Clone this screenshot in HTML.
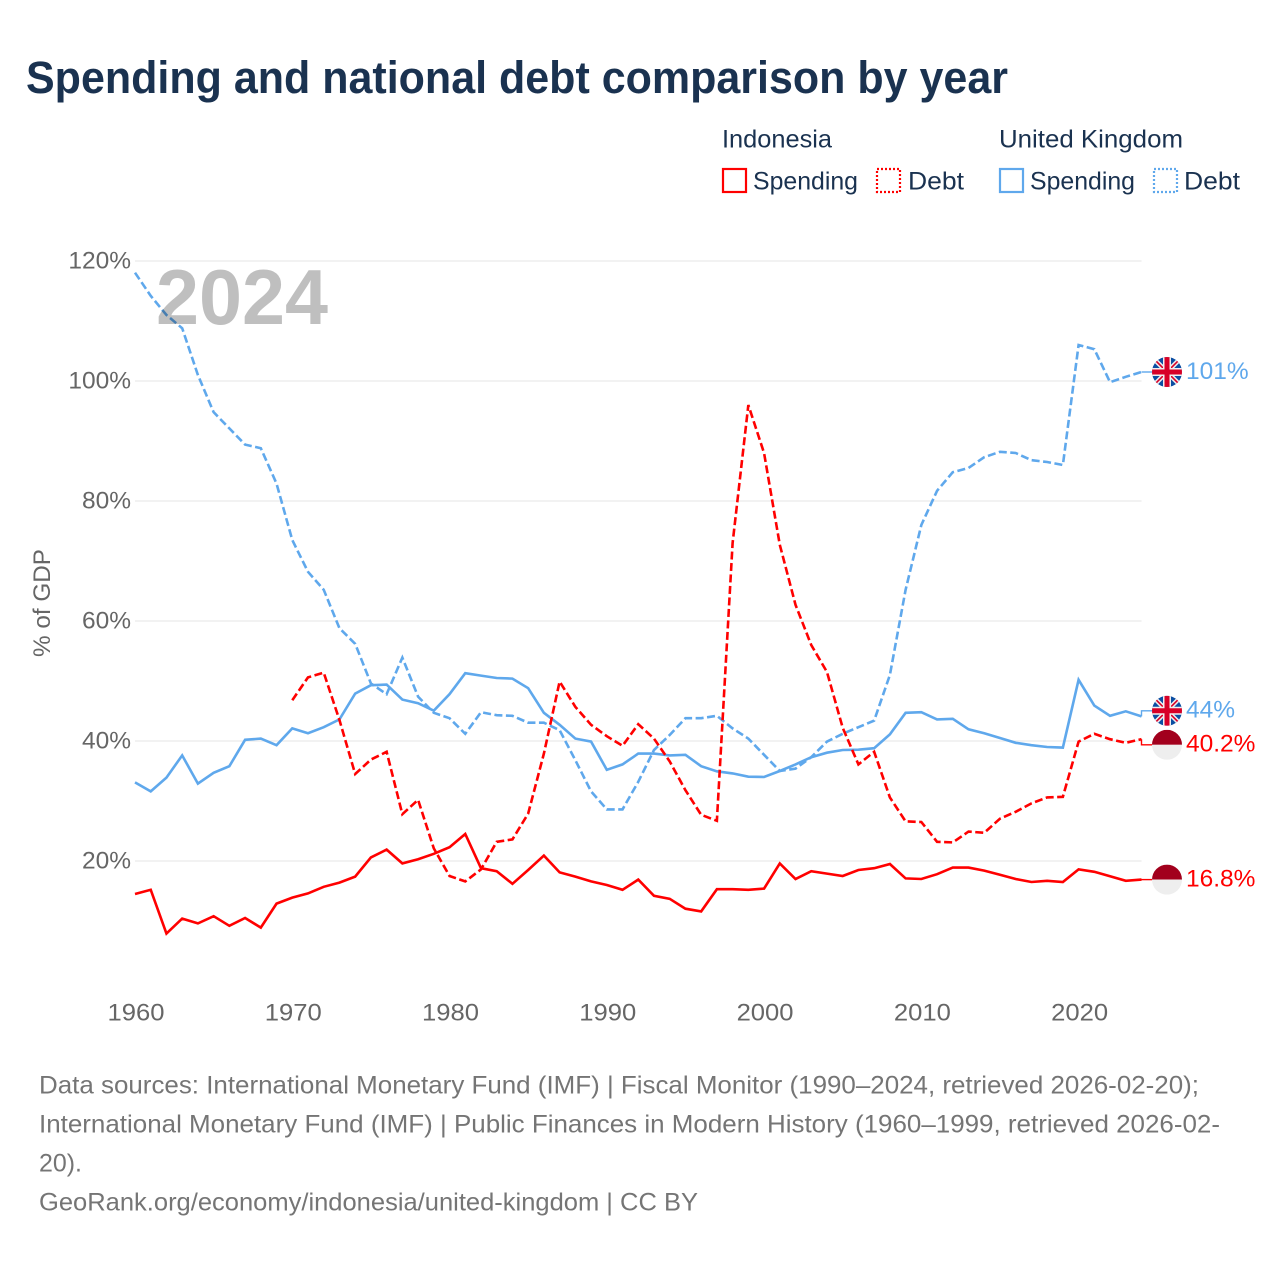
<!DOCTYPE html>
<html lang="en">
<head>
<meta charset="utf-8">
<title>Spending and national debt comparison by year</title>
<style>
html,body{margin:0;padding:0;background:#fff;}
svg{display:block;font-family:"Liberation Sans",sans-serif;}
.navy{fill:#1a3250;}
.tick{fill:#666;font-size:24.5px;}
.foot{fill:#757575;font-size:25px;}
.leg{font-size:25px;}
</style>
</head>
<body>
<svg id="chart" xmlns="http://www.w3.org/2000/svg" width="1280" height="1280" viewBox="0 0 1280 1280">
<defs>
<clipPath id="flag-clip"><circle cx="0" cy="0" r="15"></circle></clipPath>
<g id="uk-flag" clip-path="url(#flag-clip)">
<rect x="-15" y="-15" width="30" height="30" fill="#0b4ea2"></rect>
<path d="M-15-15L15 15M15-15L-15 15" stroke="#f0f0f0" stroke-width="4.6"></path>
<path d="M-15-15L15 15M15-15L-15 15" stroke="#d80027" stroke-width="1.6"></path>
<path d="M0-15V15M-15 0H15" stroke="#f0f0f0" stroke-width="8"></path>
<path d="M0-15V15M-15 0H15" stroke="#d80027" stroke-width="5"></path>
</g>
<g id="id-flag" clip-path="url(#flag-clip)">
<rect x="-15" y="-15" width="30" height="15" fill="#a2001d"></rect>
<rect x="-15" y="0" width="30" height="15" fill="#eeeeee"></rect>
</g>
</defs>
<rect x="0" y="0" width="1280" height="1280" fill="#fff"></rect>
<text class="navy" x="26" y="93" font-size="45.5" font-weight="700" textLength="982" lengthAdjust="spacingAndGlyphs">Spending and national debt comparison by year</text>

<g>
<text class="navy leg" x="722" y="147.5" textLength="110" lengthAdjust="spacingAndGlyphs">Indonesia</text>
<text class="navy leg" x="999" y="147.5" textLength="184" lengthAdjust="spacingAndGlyphs">United Kingdom</text>
<rect x="723" y="169" width="23" height="23" fill="none" stroke="#ff0000" stroke-width="2.2"></rect>
<text class="navy leg" x="753" y="189.5" textLength="105" lengthAdjust="spacingAndGlyphs">Spending</text>
<rect x="877" y="169" width="23" height="23" fill="none" stroke="#ff0000" stroke-width="2.2" stroke-dasharray="2 2"></rect>
<text class="navy leg" x="908" y="189.5" textLength="56" lengthAdjust="spacingAndGlyphs">Debt</text>
<rect x="1000" y="169" width="23" height="23" fill="none" stroke="#5fa8ec" stroke-width="2.2"></rect>
<text class="navy leg" x="1030" y="189.5" textLength="105" lengthAdjust="spacingAndGlyphs">Spending</text>
<rect x="1154" y="169" width="23" height="23" fill="none" stroke="#5fa8ec" stroke-width="2.2" stroke-dasharray="2 2"></rect>
<text class="navy leg" x="1184" y="189.5" textLength="56" lengthAdjust="spacingAndGlyphs">Debt</text>
</g>

<g id="grid"></g>
<g id="yticks"></g>
<g id="xticks"></g>
<text x="0" y="0" transform="translate(50 657) rotate(-90)" fill="#666" font-size="24.5" textLength="108" lengthAdjust="spacingAndGlyphs">% of GDP</text>
<g id="series"></g>
<text x="156" y="324" font-size="78" font-weight="700" fill="#bfbfbf" textLength="172" lengthAdjust="spacingAndGlyphs" style="mix-blend-mode:multiply">2024</text>
<g id="ends"></g>

<g>
<text class="foot" x="39" y="1093.5" textLength="1160" lengthAdjust="spacingAndGlyphs">Data sources: International Monetary Fund (IMF) | Fiscal Monitor (1990–2024, retrieved 2026-02-20);</text>
<text class="foot" x="39" y="1132.5" textLength="1181" lengthAdjust="spacingAndGlyphs">International Monetary Fund (IMF) | Public Finances in Modern History (1960–1999, retrieved 2026-02-</text>
<text class="foot" x="39" y="1171.5" textLength="43" lengthAdjust="spacingAndGlyphs">20).</text>
<text class="foot" x="39" y="1210.5" textLength="659" lengthAdjust="spacingAndGlyphs">GeoRank.org/economy/indonesia/united-kingdom | CC BY</text>
</g>
</svg>
<script>
const years = [1960,1961,1962,1963,1964,1965,1966,1967,1968,1969,1970,1971,1972,1973,1974,1975,1976,1977,1978,1979,1980,1981,1982,1983,1984,1985,1986,1987,1988,1989,1990,1991,1992,1993,1994,1995,1996,1997,1998,1999,2000,2001,2002,2003,2004,2005,2006,2007,2008,2009,2010,2011,2012,2013,2014,2015,2016,2017,2018,2019,2020,2021,2022,2023,2024];
const yTickValues = [20,40,60,80,100,120];
const xTickValues = [1960,1970,1980,1990,2000,2010,2020];
const indonesiaSpending = [14.5,15.2,7.9,10.4,9.6,10.8,9.2,10.5,8.9,12.9,13.9,14.6,15.7,16.4,17.4,20.6,21.9,19.6,20.3,21.2,22.3,24.5,18.8,18.3,16.2,18.5,20.9,18.1,17.4,16.6,16.0,15.2,16.9,14.2,13.7,12.05,11.6,15.3,15.3,15.2,15.4,19.6,17.0,18.3,17.9,17.5,18.5,18.8,19.5,17.1,17.0,17.8,18.9,18.9,18.4,17.7,17.0,16.5,16.7,16.5,18.6,18.2,17.45,16.7,16.9];
const indonesiaDebt = [null,null,null,null,null,null,null,null,null,null,46.8,50.6,51.4,43.5,34.5,36.9,38.2,27.8,30.2,22.1,17.5,16.6,18.6,23.2,23.6,27.9,37.9,49.9,45.7,42.7,40.8,39.2,42.8,40.4,36.6,31.8,27.7,26.7,73.0,96.0,88.0,72.7,62.7,56.0,51.5,42.2,36.1,38.2,30.6,26.6,26.5,23.2,23.1,24.9,24.7,27.05,28.2,29.6,30.6,30.7,39.9,41.2,40.3,39.7,40.3];
const ukSpending = [33.1,31.6,33.9,37.6,32.9,34.7,35.8,40.2,40.4,39.3,42.1,41.3,42.3,43.6,47.9,49.3,49.4,46.9,46.3,45.05,47.8,51.3,50.9,50.5,50.4,48.8,44.7,42.7,40.4,39.9,35.2,36.1,37.9,37.9,37.6,37.7,35.8,34.95,34.6,34.05,34.0,35.0,36.1,37.3,38.05,38.5,38.55,38.8,41.1,44.7,44.8,43.6,43.7,41.95,41.3,40.5,39.7,39.3,39.0,38.9,50.2,45.9,44.2,44.95,44.1];
const ukDebt = [118.05,114.2,111.0,108.8,101.0,94.8,92.1,89.4,88.8,82.9,73.5,68.2,65.2,58.8,56.2,49.6,47.8,53.9,47.4,44.7,43.8,41.2,44.8,44.3,44.2,43.05,43.05,41.8,36.8,31.6,28.6,28.6,33.2,38.5,41.0,43.8,43.8,44.2,42.1,40.4,37.7,35.0,35.4,37.3,39.9,41.2,42.3,43.4,51.0,65.2,76.0,81.7,84.8,85.5,87.3,88.2,88.0,86.8,86.5,86.0,106.0,105.3,99.8,100.7,101.5];
const endLabelText = ["101%","44%","40.2%","16.8%"];

const NS = 'http://www.w3.org/2000/svg';
const RED = '#ff0000';
const BLUE = '#5fa8ec';
const xLeft = 135, xRight = 1141.5, yZero = 981, pxPerPct = 6;
function xScale(year){ return xLeft + (year - years[0]) * (xRight - xLeft) / (years[years.length - 1] - years[0]); }
function yScale(v){ return yZero - v * pxPerPct; }
function make(tag, parent, attrs){
  const el = document.createElementNS(NS, tag);
  for (const k in attrs) el.setAttribute(k, attrs[k]);
  parent.appendChild(el);
  return el;
}

const gridG = document.getElementById('grid');
const yTicksG = document.getElementById('yticks');
yTickValues.forEach(function(v){
  const line = make('line', gridG, {x1:xLeft, x2:xRight, y1:yScale(v), y2:yScale(v), stroke:'#eeeeee', 'stroke-width':1.6});
  
  
  const t = make('text', yTicksG, {x:131, y:yScale(v) + 7.5, 'text-anchor':'end', 'class':'tick'});
  t.textContent = v + '%';
  
  
});

const xTicksG = document.getElementById('xticks');
xTickValues.forEach(function(yr){
  const t = make('text', xTicksG, {x:xScale(yr) + 1, y:1020.5, 'text-anchor':'middle', 'class':'tick', textLength:57, lengthAdjust:'spacingAndGlyphs'});
  t.textContent = yr;
  
  
});

function linePath(values){
  let d = '', pen = false;
  values.forEach(function(v, i){
    if (v === null) { pen = false; return; }
    d += (pen ? 'L' : 'M') + xScale(years[i]).toFixed(2) + ' ' + yScale(v).toFixed(2);
    pen = true;
  });
  return d;
}
const seriesG = document.getElementById('series');
function drawSeries(values, color, dashed, name){
  const p = make('path', seriesG, {d:linePath(values), fill:'none', stroke:color, 'stroke-width':2.6, 'stroke-linejoin':'miter'});
  if (dashed) p.setAttribute('stroke-dasharray', '8 3.5');
  
  
}
drawSeries(ukDebt, BLUE, true, 'line-uk-debt');
drawSeries(ukSpending, BLUE, false, 'line-uk-spending');
drawSeries(indonesiaDebt, RED, true, 'line-indonesia-debt');
drawSeries(indonesiaSpending, RED, false, 'line-indonesia-spending');

const last = years.length - 1;
const endItems = [
  {v:ukDebt[last], color:BLUE, flag:'#uk-flag', text:endLabelText[0], key:'uk-debt'},
  {v:ukSpending[last], color:BLUE, flag:'#uk-flag', text:endLabelText[1], key:'uk-spending'},
  {v:indonesiaDebt[last], color:RED, flag:'#id-flag', text:endLabelText[2], key:'indonesia-debt'},
  {v:indonesiaSpending[last], color:RED, flag:'#id-flag', text:endLabelText[3], key:'indonesia-spending'}
];
endItems.forEach(function(it){ it.ly = yScale(it.v); });
endItems.sort(function(a, b){ return a.ly - b.ly; });
for (let i = 1; i < endItems.length; i++) {
  const a = endItems[i - 1], b = endItems[i];
  if (b.ly - a.ly < 34) { const mid = (a.ly + b.ly) / 2; a.ly = mid - 17; b.ly = mid + 17; }
}
const endsG = document.getElementById('ends');
endItems.forEach(function(it){
  const c = make('path', endsG, {d:'M' + xRight + ' ' + yScale(it.v) + 'V' + it.ly + 'H1152', fill:'none', stroke:it.color, 'stroke-width':1.4});
  
  
  const f = make('use', endsG, {href:it.flag, transform:'translate(1167 ' + it.ly + ')'});
  
  
  const t = make('text', endsG, {x:1186, y:it.ly + 6.8, fill:it.color, 'font-size':24.5});
  t.textContent = it.text;
  
  
});
</script>
</body>
</html>
